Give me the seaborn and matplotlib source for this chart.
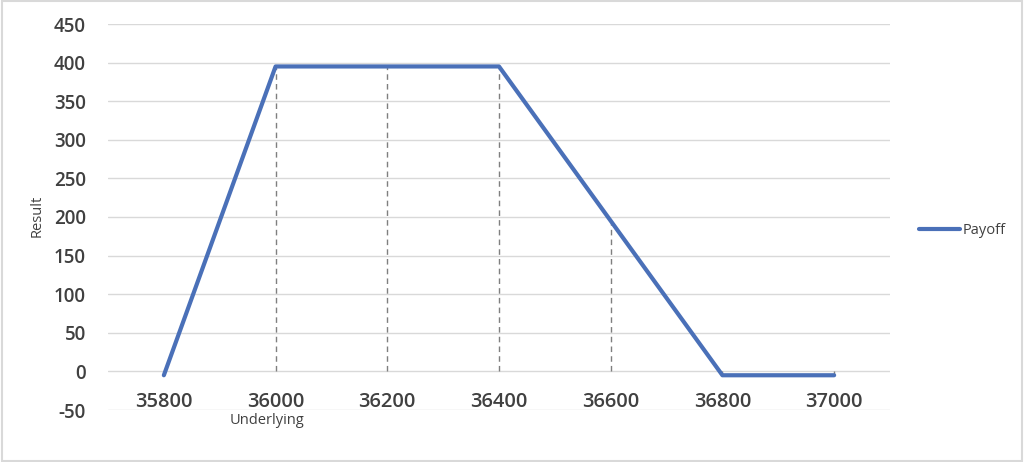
import matplotlib
matplotlib.use("Agg")
import matplotlib.pyplot as plt
import seaborn as sns
import pandas as pd
import numpy as np

underlying = ["35800", "36000", "36200", "36400", "36600", "36800", "37000"]
payoff = [-5, 395, 395, 395, 195, -5, -5]
y_ticks = [-50, 0, 50, 100, 150, 200, 250, 300, 350, 400, 450]

sns.set_theme(style="white")
plt.rcParams['font.family'] = ['Open Sans', 'DejaVu Sans']

df = pd.DataFrame({"Underlying": underlying, "Payoff": payoff})

fig = plt.figure(figsize=(10.24, 4.62), dpi=100)
ax = fig.add_axes([108/1024, 1-410/462, (890-108)/1024, (410-24)/462])

text_col = "#404040"
line_col = "#4a70b8"

# gridlines
for t in y_ticks:
    ax.axhline(t, color="#d9d9d9", lw=1.0, zorder=0)

# drop lines
xpos = np.arange(len(underlying))
ax.vlines(xpos, 0, payoff, colors="#7f7f7f", linestyles=(0, (4, 3)), lw=1.0, zorder=1)

sns.lineplot(data=df, x="Underlying", y="Payoff", ax=ax, color=line_col,
             lw=3.0, sort=False, label="Payoff", zorder=3)

ax.set_xlim(-0.5, len(underlying) - 0.5)
ax.set_ylim(-50, 450)
ax.set_yticks(y_ticks)
ax.set_yticklabels([str(t) for t in y_ticks], fontweight="semibold")
ax.set_xticks(xpos)
ax.set_xticklabels(underlying, fontweight="semibold")
ax.tick_params(axis="y", labelsize=13.5, colors=text_col, length=0, pad=16)
ax.tick_params(axis="x", labelsize=14.5, colors=text_col, length=0, pad=-13)
for s in ax.spines.values():
    s.set_visible(False)
ax.set_xlabel("")
ax.set_ylabel("")
ax.grid(False)

fig.text(37/1024, 1-216/462, "Result", rotation=90, ha="center", va="center",
         fontsize=10.5, color=text_col)
fig.text(267/1024, 1-420/462, "Underlying", ha="center", va="center",
         fontsize=10.5, color=text_col)

leg = ax.legend(loc="center left", bbox_to_anchor=(1.02, 0.466), frameon=False,
                fontsize=10.5, handlelength=2.8, handletextpad=0.2, labelcolor=text_col)

# figure border
fig.patches.append(plt.Rectangle((0.002, 0.003), 0.996, 0.994, transform=fig.transFigure,
                                 fill=False, edgecolor="#d9d9d9", lw=1.5))

fig.savefig("out.png", dpi=100)
